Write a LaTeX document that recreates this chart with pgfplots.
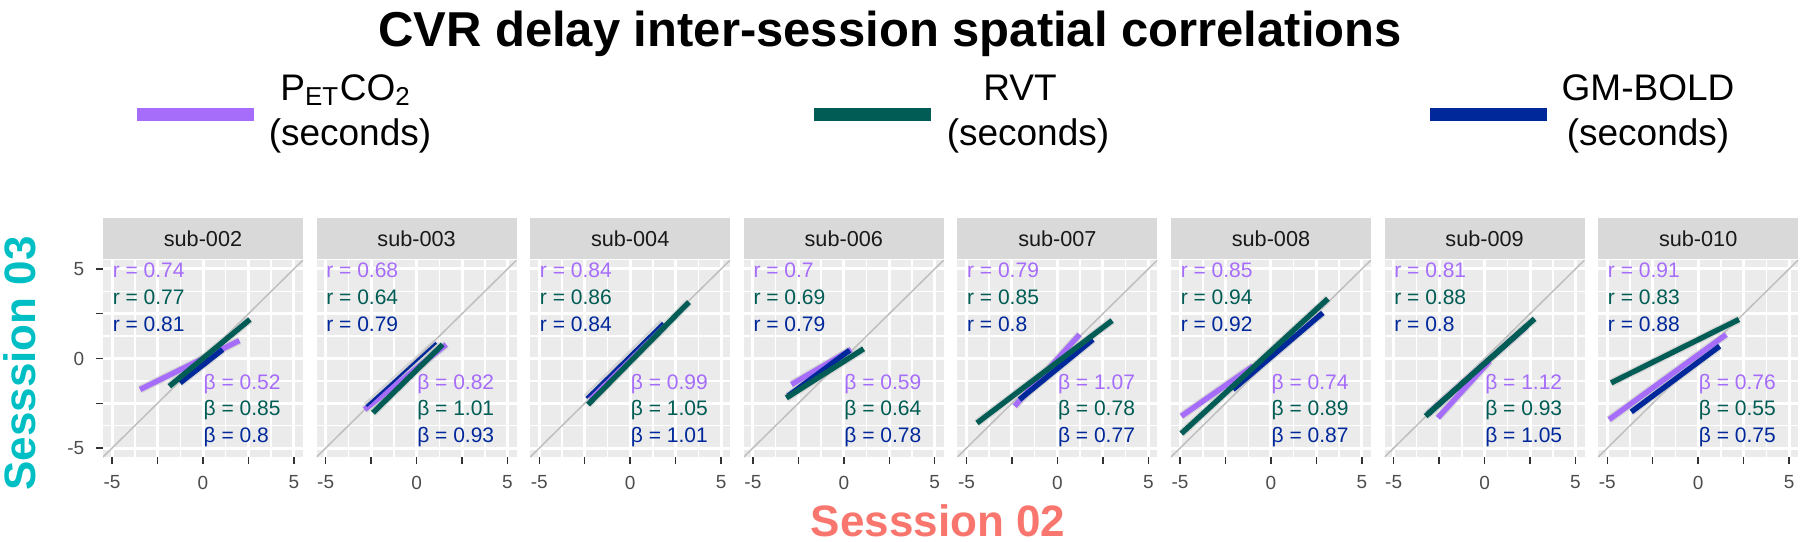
\documentclass[border=0pt]{standalone}
\usepackage{fontspec}
\setmainfont{Liberation Sans}
\usepackage{pgfplots}
\pgfplotsset{compat=1.18}

\definecolor{cP}{RGB}{166,108,250}
\definecolor{cR}{RGB}{0,92,84}
\definecolor{cG}{RGB}{0,40,155}
\definecolor{panelbg}{RGB}{235,235,235}
\definecolor{stripbg}{RGB}{217,217,217}
\definecolor{ticktxt}{RGB}{77,77,77}
\definecolor{tickcol}{RGB}{51,51,51}
\definecolor{s03}{RGB}{0,191,196}
\definecolor{s02}{RGB}{248,118,109}
\def\u{0.3pt}

\pgfplotsset{
 panel/.style={
  scale only axis,width=60pt,height=59.1pt,anchor=south west,
  xmin=-5.5,xmax=5.5,ymin=-5.5,ymax=5.5,
  axis line style={draw=none},
  axis background/.style={fill=panelbg},
  xtick={-5,-2.5,0,2.5,5},xticklabels={-5,,0,,5},
  ytick={-5,-2.5,0,2.5,5},yticklabels={},
  minor xtick={-3.75,-1.25,1.25,3.75},minor ytick={-3.75,-1.25,1.25,3.75},
  grid=both,
  major grid style={white,line width=0.9pt},
  minor grid style={white,line width=0.45pt},
  minor tick length=0pt,major tick length=2.1pt,
  tick align=outside,tick pos=left,
  tick style={tickcol,line width=0.45pt},
  ytick style={draw=none},
  ticklabel style={font=\fontsize{5.7}{6}\selectfont,text=ticktxt},
  every axis title/.style={at={(0.5,1)},anchor=south,fill=stripbg,
   minimum width=60pt,minimum height=12.3pt,inner sep=0pt,
   text=black!90,font=\fontsize{6.5}{7}\selectfont},
  every axis plot/.append style={line width=1.6pt},
 },
 halo/.style={black!25,opacity=0.5,line width=2.4pt},
}
\tikzset{lab/.style={anchor=west,inner sep=0pt,font=\fontsize{6.3}{7}\selectfont}}

% identity line, then fits: purple, blue, green (optional arg: blue width)
\newcommand\fits[4][1.6pt]{%
 \addplot[gray!50,line width=0.45pt] coordinates {(-5.5,-5.5) (5.5,5.5)};
 \addplot[halo] coordinates {#2};
 \addplot[halo] coordinates {#4};
 \addplot[halo] coordinates {#3};
 \addplot[cP] coordinates {#2};
 \addplot[cG,line width=#1] coordinates {#4};
 \addplot[cR] coordinates {#3};}
\newcommand\stats[6]{%
 \node[lab,text=cP] at (axis cs:-5,4.9) {r = #1};
 \node[lab,text=cR] at (axis cs:-5,3.4) {r = #2};
 \node[lab,text=cG] at (axis cs:-5,1.9) {r = #3};
 \node[lab,text=cP] at (axis cs:0,-1.4) {β = #4};
 \node[lab,text=cR] at (axis cs:0,-2.9) {β = #5};
 \node[lab,text=cG] at (axis cs:0,-4.4) {β = #6};}

\begin{document}
\begin{tikzpicture}
\useasboundingbox (0,0) rectangle ({1800*\u},{541*\u});

\node[anchor=base,font=\fontsize{14.7}{16}\selectfont\bfseries] at ({890*\u},{495*\u}) {CVR delay inter-session spatial correlations};

% legend
\fill[cP] ({137*\u},{420.5*\u}) rectangle ({254*\u},{433.5*\u});
\fill[cR] ({814*\u},{420.5*\u}) rectangle ({931*\u},{433.5*\u});
\fill[cG] ({1430*\u},{420.5*\u}) rectangle ({1547*\u},{433.5*\u});
\begin{scope}[every node/.style={anchor=base,font=\fontsize{11.1}{13}\selectfont}]
\node at ({346*\u},{441*\u}) {P\textsubscript{ET}CO\textsubscript{2}};
\node at ({350*\u},{396*\u}) {(seconds)};
\node at ({1020*\u},{441*\u}) {RVT};
\node at ({1028*\u},{396*\u}) {(seconds)};
\node at ({1648*\u},{441*\u}) {GM-BOLD};
\node at ({1648*\u},{396*\u}) {(seconds)};
\end{scope}

\begin{axis}[panel,at={(30.9pt,25.2pt)},title={sub-002},
 yticklabels={-5,,0,,5},ytick style={draw=tickcol}]
\fits{(-3.46,-1.73) (2.0,1.0)}{(-1.85,-1.55) (2.58,2.18)}{(-1.26,-1.36) (1.08,0.5)}
\stats{0.74}{0.77}{0.81}{0.52}{0.85}{0.8}
\end{axis}

\begin{axis}[panel,at={(94.98pt,25.2pt)},title={sub-003}]
\fits[0.7pt]{(-2.86,-2.85) (1.63,0.78)}{(-2.40,-3.03) (1.43,0.78)}{(-2.76,-2.66) (1.08,0.88)}
\stats{0.68}{0.64}{0.79}{0.82}{1.01}{0.93}
\end{axis}

\begin{axis}[panel,at={(159.06pt,25.2pt)},title={sub-004}]
\fits[0.7pt]{(-2.2,-2.28) (1.9,1.78)}{(-2.32,-2.57) (3.23,3.15)}{(-2.41,-2.2) (1.8,2.0)}
\stats{0.84}{0.86}{0.84}{0.99}{1.05}{1.01}
\end{axis}

\begin{axis}[panel,at={(223.14pt,25.2pt)},title={sub-006}]
\fits{(-2.88,-1.45) (0.41,0.5)}{(-3.16,-2.2) (1.09,0.54)}{(-3.07,-2.1) (0.32,0.46)}
\stats{0.7}{0.69}{0.79}{0.59}{0.64}{0.78}
\end{axis}

\begin{axis}[panel,at={(287.22pt,25.2pt)},title={sub-007}]
\fits{(-2.35,-2.66) (1.22,1.34)}{(-4.42,-3.6) (3.01,2.12)}{(-2.08,-2.29) (1.95,1.06)}
\stats{0.79}{0.85}{0.8}{1.07}{0.78}{0.77}
\end{axis}

\begin{axis}[panel,at={(351.3pt,25.2pt)},title={sub-008}]
\fits{(-4.93,-3.22) (-0.99,-0.43)}{(-4.93,-4.19) (3.13,3.34)}{(-2.09,-1.73) (2.85,2.55)}
\stats{0.85}{0.94}{0.92}{0.74}{0.89}{0.87}
\end{axis}

\begin{axis}[panel,at={(415.38pt,25.2pt)},title={sub-009}]
\fits{(-2.57,-3.31) (0.27,-0.15)}{(-3.24,-3.22) (2.75,2.22)}{(-3.1,-3.08) (2.3,1.8)}
\stats{0.81}{0.88}{0.8}{1.12}{0.93}{1.05}
\end{axis}

\begin{axis}[panel,at={(479.46pt,25.2pt)},title={sub-010}]
\fits{(-4.9,-3.41) (1.54,1.34)}{(-4.79,-1.36) (2.24,2.18)}{(-3.68,-2.98) (1.18,0.69)}
\stats{0.91}{0.83}{0.88}{0.76}{0.55}{0.75}
\end{axis}

\node[anchor=base,font=\fontsize{13.2}{14}\selectfont\bfseries,text=s02] at ({938*\u},{5*\u}) {Sesssion 02};
\node[anchor=base,rotate=90,font=\fontsize{13.2}{14}\selectfont\bfseries,text=s03] at ({35*\u},{177.5*\u}) {Sesssion 03};
\end{tikzpicture}
\end{document}
